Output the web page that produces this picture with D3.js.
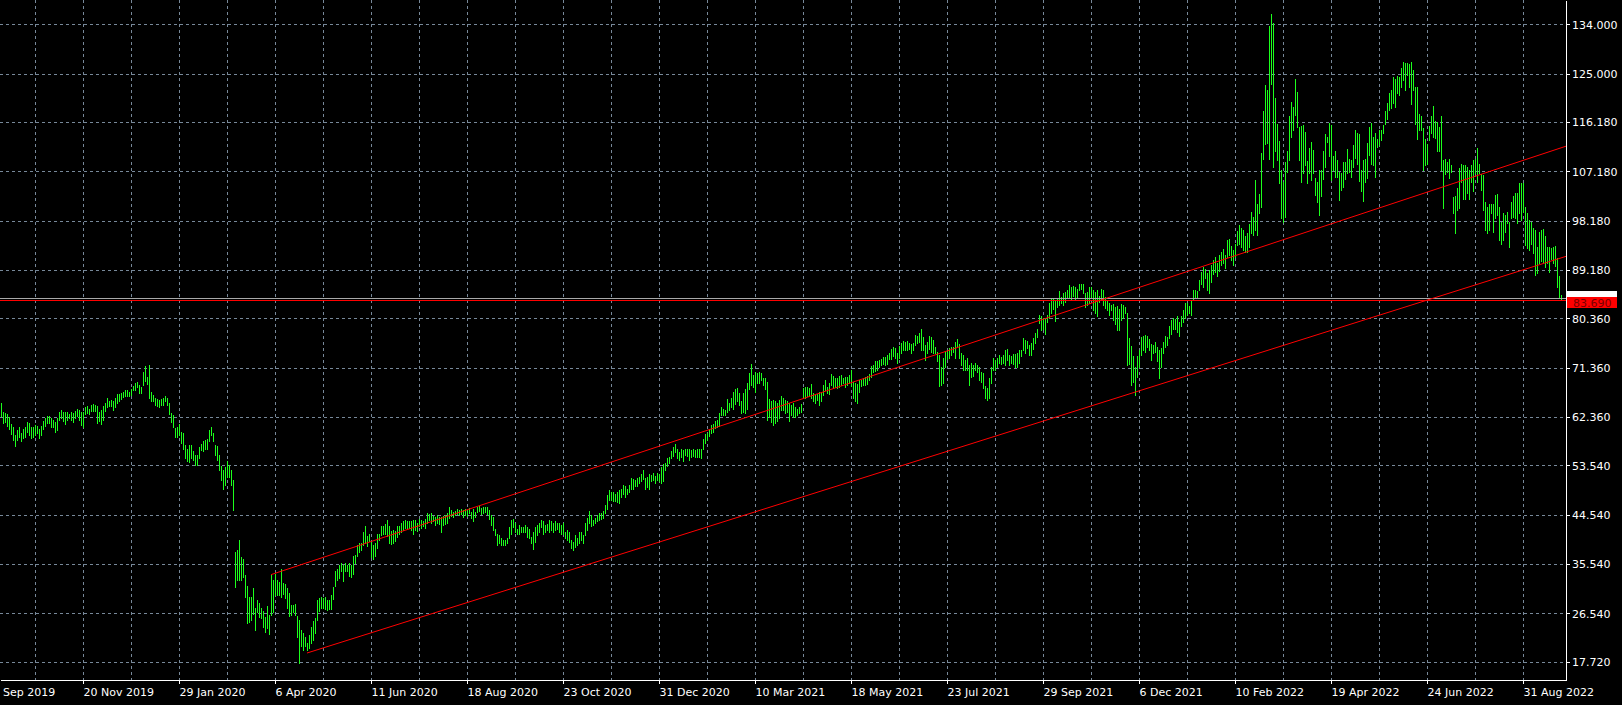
<!DOCTYPE html>
<html><head><meta charset="utf-8">
<script src="https://cdn.jsdelivr.net/npm/d3@7/dist/d3.min.js"></script>
<style>html,body{margin:0;padding:0;background:#000;overflow:hidden}svg{display:block}</style>
</head><body><svg id="c" width="1622" height="705"></svg>
<script>
// Daily bar highs (index = bar number, oldest first)
const highs = [
65.0,63.2,63.0,62.9,62.4,61.1,60.5,59.1,59.9,60.5,
59.5,60.1,60.5,61.5,61.2,60.5,60.5,60.9,60.7,60.1,
60.7,61.7,62.1,62.5,62.5,62.1,61.9,61.5,62.1,63.3,
63.6,63.3,63.2,63.2,62.9,63.3,63.0,63.5,63.9,63.6,
63.2,63.3,64.1,64.4,63.9,64.5,64.7,64.5,64.4,63.2,
63.6,64.4,65.0,65.8,65.3,65.5,65.2,65.8,66.6,66.6,
66.8,67.0,67.3,67.2,67.0,67.4,68.0,68.5,68.8,68.2,
67.8,70.6,71.7,69.6,71.9,67.0,66.4,65.9,65.6,65.5,
65.6,65.8,66.2,65.8,65.0,63.0,62.7,60.3,60.5,61.1,
59.7,59.4,57.3,56.5,57.3,57.3,56.2,55.4,55.4,56.8,
57.4,57.9,58.2,58.3,59.9,60.5,59.4,57.3,57.1,55.4,
53.4,52.6,53.2,54.4,53.6,52.6,50.9,37.8,38.1,39.9,
36.8,36.4,33.5,31.5,29.6,29.6,31.1,27.5,28.9,28.4,
27.5,27.0,25.9,27.8,26.2,33.7,32.6,33.8,32.6,32.3,
34.6,32.0,31.9,31.1,30.2,28.1,28.1,28.3,26.1,25.3,
23.5,23.0,22.3,21.2,22.6,24.1,25.2,25.6,29.0,29.3,
29.5,29.3,29.5,29.0,28.9,29.9,31.4,34.3,34.6,35.4,
35.8,35.4,35.8,35.4,35.8,35.4,37.0,37.2,39.0,39.3,
39.4,41.4,42.4,40.7,41.1,39.6,39.0,39.4,41.0,41.1,
42.4,42.4,42.8,43.5,42.4,41.6,41.8,41.6,42.5,42.4,
43.0,43.3,43.5,43.3,43.3,43.3,43.6,43.5,43.1,43.7,
43.5,43.3,43.7,44.9,44.7,44.8,44.3,44.1,44.5,44.1,
44.1,44.3,44.5,44.8,46.0,45.4,45.1,45.3,45.5,45.4,
45.5,45.4,45.5,45.4,45.7,45.1,45.5,45.1,46.0,46.1,
45.7,46.0,45.9,45.9,45.4,44.5,44.2,42.0,41.1,40.8,
40.2,40.0,40.0,40.2,42.3,43.6,43.7,43.1,42.0,42.7,
42.3,42.3,42.7,42.3,42.0,40.5,41.4,42.3,42.7,43.1,
43.5,43.3,42.7,42.8,43.5,43.3,43.1,43.3,43.1,43.0,
42.7,43.0,41.4,41.7,41.4,39.9,39.6,40.8,40.2,41.3,
41.4,40.8,43.0,43.9,45.3,44.5,43.6,43.9,44.5,44.8,
44.9,45.3,46.3,48.1,49.0,48.7,48.6,48.4,48.6,49.0,
49.2,50.0,49.8,49.3,50.0,51.2,51.0,50.9,51.2,51.5,
52.0,52.6,51.3,51.5,52.0,51.8,52.2,51.6,52.2,52.0,
53.3,53.8,54.0,54.8,55.1,56.2,56.8,57.4,56.5,56.0,
56.6,56.3,56.6,56.5,56.5,56.3,56.5,56.3,56.5,56.5,
56.6,58.3,59.3,59.4,60.0,60.9,61.1,61.7,61.8,63.0,
64.1,63.9,63.6,65.6,65.0,65.8,67.0,67.4,67.6,66.7,
65.2,66.8,67.4,68.5,70.3,72.0,70.0,70.6,70.4,70.6,
70.4,69.4,69.4,68.8,65.6,65.2,65.5,65.2,65.0,65.5,
66.1,65.9,65.5,65.2,64.9,64.6,64.9,64.1,63.9,64.2,
64.7,67.6,67.8,67.9,67.6,68.4,66.7,66.4,66.6,67.0,
66.7,68.2,69.2,67.9,68.5,70.2,69.8,69.4,69.4,69.8,
70.0,69.4,69.7,69.7,70.0,70.9,68.8,68.5,68.4,69.1,
69.2,69.4,69.6,69.8,70.2,71.7,71.9,72.5,72.6,72.8,
72.9,73.3,73.3,73.7,74.1,74.7,75.2,74.9,74.0,75.3,
75.8,76.3,76.1,76.3,75.9,75.7,75.8,77.3,77.1,77.7,
78.4,77.0,75.5,76.1,77.1,77.0,76.4,75.1,74.3,73.7,
71.5,73.2,74.3,74.6,74.9,75.2,75.1,76.1,76.5,75.7,
74.0,73.7,72.8,73.1,71.9,72.2,71.9,72.3,71.9,71.4,
70.5,70.3,68.0,67.6,69.4,71.4,73.1,72.8,73.1,73.7,
73.3,73.7,74.6,74.7,73.7,73.5,73.9,73.9,74.0,74.5,
74.6,76.7,76.4,76.3,75.5,75.9,76.7,77.6,78.5,81.0,
80.8,80.4,80.2,81.0,83.1,84.0,84.0,83.7,84.0,85.4,
84.3,84.9,85.2,85.6,86.4,86.0,86.3,86.1,85.8,86.7,
86.7,86.6,85.0,85.2,86.0,86.1,85.5,85.2,85.5,84.4,
85.8,85.5,84.2,83.6,83.1,82.8,83.0,82.5,82.6,82.0,
83.0,82.8,82.5,81.3,76.7,75.3,73.5,71.5,73.4,74.6,
77.0,77.1,77.3,77.1,76.5,75.7,75.5,76.1,75.2,74.5,
74.9,76.1,77.1,77.0,79.0,80.1,80.4,80.2,80.8,79.6,
80.8,81.8,83.1,83.2,82.6,83.7,85.6,85.5,85.4,87.3,
88.9,89.7,89.3,88.6,89.1,90.0,91.0,91.5,90.5,92.0,
92.5,93.0,92.0,94.7,94.9,93.5,92.8,94.0,96.3,97.4,
96.8,96.5,95.3,95.9,97.6,99.8,98.9,105.6,101.3,103.0,
110.5,118.2,122.9,122.0,133.6,135.9,134.2,120.5,115.9,112.8,
107.5,105.3,108.9,110.9,117.3,119.9,119.0,124.0,121.7,115.3,
115.4,115.6,114.4,109.1,111.4,112.6,111.1,105.9,105.3,107.4,
107.4,110.8,114.0,113.4,116.0,115.6,110.0,110.8,109.2,107.1,
106.8,108.9,108.8,111.2,109.4,109.2,112.0,114.8,114.1,114.0,
107.5,109.2,109.4,112.3,115.3,116.0,113.5,114.2,113.0,114.8,
114.8,115.6,118.2,119.6,121.4,122.1,124.4,124.1,124.6,124.3,
126.0,127.2,127.0,126.9,126.7,127.2,125.7,122.6,122.5,117.6,
117.3,115.0,113.0,112.2,115.4,117.3,119.1,116.4,116.2,115.3,
117.3,109.2,109.4,108.9,109.5,108.3,102.5,102.7,104.1,107.7,
108.6,108.3,108.3,108.0,107.4,108.3,109.2,109.4,111.4,108.6,
106.7,106.5,101.6,100.7,101.3,101.3,101.3,102.8,103.0,100.6,
98.0,99.5,99.2,99.8,98.0,101.6,102.6,103.2,103.3,105.0,
105.0,105.1,100.7,99.5,98.3,98.0,96.8,96.5,93.4,96.2,
96.5,96.6,95.3,93.3,93.4,93.1,93.3,93.6,91.3,88.0,
84.6
];
// Daily bar lows
const lows = [
62.5,61.3,61.5,60.7,60.1,59.3,58.2,57.0,58.2,58.8,
58.0,58.5,58.8,59.7,59.1,58.5,58.8,59.1,59.4,58.6,
59.1,60.1,60.7,61.2,61.2,60.6,60.5,59.7,59.9,61.8,
62.1,61.7,61.1,61.8,62.1,61.8,61.5,62.1,62.5,61.8,
60.9,60.5,62.9,63.0,62.9,63.5,63.5,63.5,61.3,61.7,
61.1,61.8,63.5,64.2,64.4,64.4,63.6,64.2,64.9,65.2,
65.6,66.0,66.1,66.2,66.1,66.4,67.2,67.3,67.9,66.8,
66.7,68.2,69.0,68.4,65.8,65.3,65.2,64.5,64.4,64.1,
64.5,64.5,65.3,64.5,62.9,61.5,60.5,58.7,58.8,59.1,
57.6,56.5,54.8,54.4,54.2,54.8,54.6,53.6,53.6,54.8,
56.3,56.2,56.6,56.6,57.9,59.1,57.9,55.4,54.5,52.7,
50.9,49.3,49.9,51.5,51.5,49.9,45.4,31.4,32.6,32.6,
32.6,33.2,29.6,24.7,25.0,25.3,26.5,23.5,26.8,25.9,
25.6,24.1,23.2,23.8,22.8,26.2,26.8,29.9,29.9,29.9,
29.6,30.1,29.3,27.5,26.0,26.2,26.8,26.2,22.3,17.5,
20.5,19.9,20.5,19.9,20.2,21.1,21.7,22.9,25.3,26.9,
27.5,27.5,27.3,27.2,27.3,27.3,29.1,31.5,32.6,32.9,
34.2,32.5,34.3,34.3,33.4,33.2,33.8,35.8,37.0,37.8,
38.1,39.0,39.3,38.8,39.8,36.9,36.4,37.0,38.4,39.9,
40.8,41.1,41.1,40.7,39.3,39.2,39.4,39.8,40.5,41.1,
41.3,41.8,42.2,42.1,42.1,41.8,41.0,41.8,41.6,42.4,
42.2,42.5,42.2,43.1,43.5,43.0,43.3,42.7,43.1,42.8,
41.3,42.7,42.8,43.1,43.9,44.3,44.1,44.5,44.7,44.5,
44.7,44.1,44.5,44.3,44.8,43.9,43.4,44.1,45.1,45.3,
44.7,44.8,45.1,44.7,43.7,42.7,41.7,40.8,39.0,39.3,
39.0,39.0,39.0,39.3,40.2,41.1,42.3,41.4,41.0,41.1,
41.3,41.4,41.4,40.5,40.2,39.3,38.2,39.6,40.8,41.4,
42.3,41.1,41.4,41.7,41.4,41.7,41.3,41.7,42.0,41.4,
41.0,41.0,40.2,40.0,39.6,38.4,38.1,38.7,39.0,39.3,
39.9,39.3,40.8,41.7,43.0,42.5,42.7,43.0,43.3,43.5,
43.7,43.9,44.8,45.5,47.2,47.3,47.1,47.1,46.9,46.6,
47.8,48.4,47.8,48.4,48.7,49.3,49.3,49.7,49.8,50.3,
50.6,51.0,49.2,49.5,49.2,50.6,50.9,50.4,50.9,50.7,
50.4,50.6,52.7,53.4,53.9,54.8,55.2,56.0,54.8,54.6,
55.0,54.4,55.4,55.2,54.5,55.0,55.2,55.1,55.0,55.0,
54.8,56.5,57.7,58.2,58.9,59.4,59.7,60.3,60.6,60.7,
62.7,62.7,62.7,63.3,63.6,64.2,63.9,64.7,65.2,64.6,
63.0,63.3,63.0,63.9,67.4,68.2,67.9,67.0,68.5,68.5,
69.1,68.2,67.4,61.8,62.4,61.5,60.9,61.2,61.7,62.1,
63.6,63.6,63.0,63.3,61.7,62.7,62.4,62.4,62.7,63.0,
63.3,65.8,65.8,66.1,66.2,65.8,65.2,65.0,65.5,64.6,
65.2,66.4,67.2,66.7,66.6,68.2,67.6,67.9,67.6,67.9,
68.2,68.5,67.8,68.2,68.5,68.0,65.8,65.2,64.9,67.0,
68.0,68.2,68.2,68.4,69.1,69.7,70.6,70.8,70.9,71.5,
71.9,72.0,71.9,72.0,72.9,72.9,73.5,73.1,72.3,73.2,
74.1,74.5,74.6,74.5,74.7,74.1,74.6,75.5,75.8,76.1,
74.6,74.6,72.8,74.1,74.7,74.3,74.1,74.0,72.5,68.0,
68.2,68.5,71.5,72.9,73.2,73.7,74.3,73.2,75.2,73.1,
71.9,71.0,71.0,71.0,68.2,69.7,69.8,71.0,70.6,69.1,
68.8,67.6,65.8,65.5,65.8,68.5,71.0,71.0,71.5,72.2,
72.0,72.2,71.9,72.8,71.9,72.2,72.0,71.5,71.5,72.2,
73.5,74.6,74.1,74.9,73.7,73.7,74.7,75.9,77.0,79.5,
78.2,78.5,77.5,79.6,80.4,81.3,82.0,79.8,82.4,82.8,
83.1,82.8,83.4,84.3,84.3,83.8,84.4,83.7,84.3,85.5,
85.7,84.9,82.5,82.8,83.1,84.2,81.8,81.3,80.8,83.4,
83.8,82.8,82.2,81.9,81.0,81.9,80.1,79.4,78.3,78.3,
80.1,80.4,81.3,71.8,72.1,68.2,68.8,66.4,69.7,71.5,
73.7,74.6,74.3,75.1,74.6,72.8,74.0,74.3,72.5,69.4,
71.5,74.0,75.2,75.5,76.7,77.5,78.4,78.5,77.9,77.1,
79.0,79.7,80.4,81.0,81.4,81.0,83.7,84.0,84.3,85.5,
86.7,86.1,87.7,85.6,85.0,87.0,88.5,88.8,88.0,89.0,
90.0,90.5,89.5,91.5,92.0,91.0,90.0,91.5,93.7,94.0,
93.4,92.8,92.5,92.5,93.4,95.9,95.6,96.5,95.6,99.5,
100.7,109.5,112.2,112.3,109.5,123.2,108.0,110.8,109.2,105.1,
98.6,98.0,98.9,107.1,109.2,113.4,114.8,117.4,115.3,109.2,
105.3,106.8,108.3,105.1,106.9,105.6,106.8,102.9,101.6,99.2,
102.6,105.7,108.0,112.6,110.0,105.6,107.4,106.2,106.2,101.9,
103.8,104.4,105.7,106.9,107.1,106.2,108.0,109.7,108.5,105.5,
103.5,101.8,105.3,105.9,110.2,108.6,108.3,106.1,111.7,112.0,
112.9,114.1,115.8,116.8,118.4,118.7,119.7,119.0,121.5,121.1,
122.5,123.8,122.1,124.8,122.6,119.5,122.0,115.8,113.0,114.7,
114.8,107.5,108.3,108.6,112.9,114.2,113.5,113.2,110.8,110.9,
107.4,100.4,106.7,107.1,105.9,107.1,99.5,95.9,100.1,100.4,
105.3,102.2,102.2,103.3,102.1,105.3,103.5,106.8,105.3,106.8,
103.8,100.1,96.5,95.9,96.5,99.5,96.2,98.6,99.2,94.6,
94.0,94.6,96.2,97.7,93.4,98.6,98.9,98.6,97.7,99.5,
98.3,99.8,93.7,93.1,92.8,94.0,92.2,88.3,88.6,90.4,
90.9,90.7,89.8,90.4,88.9,91.1,90.4,89.9,86.1,84.0,
83.69
];

// Right price axis labels
const priceTicks = [134.000, 125.000, 116.180, 107.180, 98.180, 89.180, 80.360, 71.360, 62.360, 53.540, 44.540, 35.540, 26.540, 17.720];
// Time axis labels and the bar number each one marks
const dateLabels = ["20 Nov 2019","29 Jan 2020","6 Apr 2020","11 Jun 2020","18 Aug 2020","23 Oct 2020","31 Dec 2020","10 Mar 2021","18 May 2021","23 Jul 2021","29 Sep 2021","6 Dec 2021","10 Feb 2022","19 Apr 2022","24 Jun 2022","31 Aug 2022"];
const dateLabelBars = [41, 89, 137, 185, 233, 281, 329, 377, 425, 473, 521, 569, 617, 665, 713, 761];
const firstDateLabel = "Sep 2019";
// Vertical grid every 24 bars starting at bar 17
const gridBarStart = 17, gridBarStep = 24;
// Trend channel lines: [bar, price]
const upperChannel = [[135, 33.6], [782.8, 111.8]];
const lowerChannel = [[153, 19.3], [782.8, 91.7]];
// Current prices
const bidPrice = 83.69;
const askPrice = 84.02;

const W = 1622, H = 705, plotRight = 1566, plotBottom = 680;
const FONT = "DejaVu Sans";
const GREEN = "#1cff1c", GRID = "#778899";

const svg = d3.select("#c");
svg.append("rect").attr("width", W).attr("height", H).attr("fill", "#000");

const x = d3.scaleLinear().domain([-0.5, 782.5]).range([0, plotRight]);
const y = d3.scaleLinear().domain([14.38, 138.433]).range([plotBottom, 0]);
const px = v => Math.round(v) + 0.5;

const plot = svg.append("g");
// grid
const gridBars = d3.range(gridBarStart, 782, gridBarStep);
plot.selectAll("line.vg").data(gridBars).join("line")
  .attr("x1", d => px(x(d))).attr("x2", d => px(x(d)))
  .attr("y1", 0).attr("y2", plotBottom)
  .attr("stroke", GRID).attr("stroke-dasharray", "3,3").attr("shape-rendering", "crispEdges");
plot.selectAll("line.hg").data(priceTicks).join("line")
  .attr("x1", 0).attr("x2", plotRight)
  .attr("y1", d => px(y(d))).attr("y2", d => px(y(d)))
  .attr("stroke", GRID).attr("stroke-dasharray", "3,3").attr("shape-rendering", "crispEdges");

// bars
const bars = highs.map((h, i) => ({i, h, l: lows[i]}));
plot.selectAll("line.bar").data(bars).join("line")
  .attr("x1", d => Math.round(x(d.i)) + 0.5).attr("x2", d => Math.round(x(d.i)) + 0.5)
  .attr("y1", d => Math.round(y(d.h))).attr("y2", d => Math.round(y(d.l)) + 1)
  .attr("stroke", GREEN).attr("stroke-width", 1).attr("shape-rendering", "crispEdges");

// price lines
plot.append("line").attr("x1", 0).attr("x2", plotRight)
  .attr("y1", px(y(askPrice))).attr("y2", px(y(askPrice)))
  .attr("stroke", "#a9a9a9").attr("shape-rendering", "crispEdges");
plot.append("line").attr("x1", 0).attr("x2", plotRight)
  .attr("y1", px(y(bidPrice))).attr("y2", px(y(bidPrice)))
  .attr("stroke", "#ff0000").attr("shape-rendering", "crispEdges");

// channel lines (rays to right edge)
function ray(pts) {
  const [[b0, p0], [b1, p1]] = pts;
  const bEnd = x.invert(plotRight);
  const pEnd = p0 + (p1 - p0) * (bEnd - b0) / (b1 - b0);
  plot.append("line")
    .attr("x1", x(b0)).attr("y1", y(p0)).attr("x2", x(bEnd)).attr("y2", y(pEnd))
    .attr("stroke", "#ff0000").attr("stroke-width", 1);
}
ray(upperChannel);
ray(lowerChannel);

// axes
const yAxis = d3.axisRight(y).tickValues(priceTicks).tickFormat(d3.format(".3f")).tickSize(4).tickSizeOuter(0);
const gy = svg.append("g").attr("transform", `translate(${plotRight},0)`).call(yAxis);
gy.select(".domain").attr("stroke", "#fff").attr("shape-rendering", "crispEdges");
gy.selectAll(".tick line").attr("stroke", "#fff").attr("shape-rendering", "crispEdges");
gy.selectAll(".tick text").attr("fill", "#fff").attr("x", 6).attr("dy", "0.34em")
  .style("font-family", FONT).style("font-size", "11px");

const xAxis = d3.axisBottom(x).tickValues(dateLabelBars).tickFormat((d, i) => dateLabels[i]).tickSize(4).tickSizeOuter(0);
const gx = svg.append("g").attr("transform", `translate(0,${plotBottom})`).call(xAxis);
gx.select(".domain").attr("stroke", "#fff").attr("shape-rendering", "crispEdges");
gx.selectAll(".tick line").attr("stroke", "#fff").attr("shape-rendering", "crispEdges");
gx.selectAll(".tick text").attr("fill", "#fff").attr("text-anchor", "start").attr("x", 0).attr("y", 16).attr("dy", 0)
  .style("font-family", FONT).style("font-size", "11px");
svg.append("text").attr("x", 3).attr("y", plotBottom + 16).attr("fill", "#fff")
  .style("font-family", FONT).style("font-size", "11px").text(firstDateLabel);

// price labels on the right axis
const ya = Math.round(y(askPrice)), yb = Math.round(y(bidPrice));
svg.append("rect").attr("x", plotRight + 1).attr("y", ya - 7).attr("width", 50).attr("height", 12).attr("fill", "#fff");
svg.append("rect").attr("x", plotRight + 1).attr("y", yb - 3).attr("width", 50).attr("height", 11).attr("fill", "#ff0000");
svg.append("text").attr("x", plotRight + 7).attr("y", yb + 6.5).attr("fill", "#7a0000")
  .style("font-family", FONT).style("font-size", "11px").text(d3.format(".3f")(bidPrice));
</script></body></html>
